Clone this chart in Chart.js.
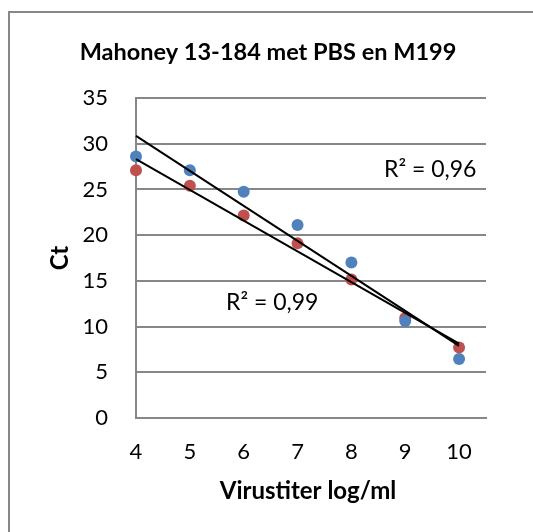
<!DOCTYPE html>
<html>
<head>
<meta charset="utf-8">
<script src="https://cdn.jsdelivr.net/npm/chart.js@4/dist/chart.umd.min.js"></script>
<style>
  html, body { margin: 0; padding: 0; background: #fff; }
  canvas { display: block; }
</style>
</head>
<body>
<canvas id="c" width="533" height="532" style="width:533px;height:532px"></canvas>
<script>
// ---- data ----
const chartTitle = 'Mahoney 13-184 met PBS en M199';
const xAxisTitle = 'Virustiter log/ml';
const yAxisTitle = 'Ct';
const virusTiter = [4, 5, 6, 7, 8, 9, 10];
const ctBlue = [28.6, 27.1, 24.75, 21.1, 17.0, 10.6, 6.45];
const ctRed  = [27.1, 25.4, 22.15, 19.1, 15.15, 10.95, 7.7];
const xTickValues = [4, 5, 6, 7, 8, 9, 10];
const yTickValues = [0, 5, 10, 15, 20, 25, 30, 35];
const r2Blue = 'R² = 0,96';
const r2Red  = 'R² = 0,99';

// least-squares trendline over the data range (as Excel's linear trendline)
function trend(xs, ys) {
  const n = xs.length;
  const mx = xs.reduce((a, b) => a + b, 0) / n;
  const my = ys.reduce((a, b) => a + b, 0) / n;
  let sxy = 0, sxx = 0;
  for (let i = 0; i < n; i++) { sxy += (xs[i] - mx) * (ys[i] - my); sxx += (xs[i] - mx) ** 2; }
  const b = sxy / sxx, a = my - b * mx;
  const x0 = Math.min(...xs), x1 = Math.max(...xs);
  return [{ x: x0, y: a + b * x0 }, { x: x1, y: a + b * x1 }];
}
const pts = (xs, ys) => xs.map((x, i) => ({ x, y: ys[i] }));

const GRAY = '#878787';
const FONT = 'Lato, "Open Sans", sans-serif';

const decor = {
  id: 'decor',
  beforeDraw(chart) {
    const ctx = chart.ctx;
    ctx.save();
    ctx.fillStyle = '#fff';
    ctx.fillRect(0, 0, chart.width, chart.height);
    ctx.strokeStyle = GRAY;
    ctx.lineWidth = 2;
    ctx.beginPath();
    ctx.moveTo(9, chart.height);
    ctx.lineTo(9, 12);
    ctx.lineTo(chart.width, 12);
    ctx.stroke();
    ctx.restore();
  },
  afterDraw(chart) {
    const ctx = chart.ctx;
    const xs = chart.scales.x;
    ctx.save();
    ctx.fillStyle = '#000';
    ctx.textBaseline = 'alphabetic';
    // title
    ctx.font = 'bold 23.5px ' + FONT;
    ctx.textAlign = 'center';
    ctx.fillText(chartTitle, 268, 60);
    // x axis title
    ctx.font = 'bold 24px ' + FONT;
    ctx.fillText(xAxisTitle, (xs.left + xs.right) / 2 - 3, 499);
    // y axis title
    ctx.save();
    ctx.translate(68, 258);
    ctx.rotate(-Math.PI / 2);
    ctx.fillText(yAxisTitle, 0, 0);
    ctx.restore();
    // R² labels
    ctx.font = '23px ' + FONT;
    ctx.textAlign = 'left';
    ctx.fillText(r2Blue, 384, 177);
    ctx.fillText(r2Red, 226, 310);
    ctx.restore();
  }
};

new Chart(document.getElementById('c'), {
  type: 'scatter',
  data: {
    datasets: [
      { label: 'trend blue', type: 'line', data: trend(virusTiter, ctBlue), borderColor: '#000', borderWidth: 2,
        pointRadius: 0, fill: false, order: 0, clip: false },
      { label: 'trend red', type: 'line', data: trend(virusTiter, ctRed), borderColor: '#000', borderWidth: 2,
        pointRadius: 0, fill: false, order: 0, clip: false },
      { label: 'blue', data: pts(virusTiter, ctBlue), backgroundColor: '#4F81BD', borderWidth: 0,
        pointRadius: 6, order: 1, clip: false },
      { label: 'red', data: pts(virusTiter, ctRed), backgroundColor: '#C0504D', borderWidth: 0,
        pointRadius: 6, order: 2, clip: false }
    ]
  },
  options: {
    responsive: false,
    devicePixelRatio: 1,
    animation: false,
    layout: { padding: { left: 0, right: 47, top: 98, bottom: 0 } },
    plugins: { legend: { display: false }, title: { display: false }, tooltip: { enabled: false } },
    scales: {
      x: {
        type: 'linear', min: 4, max: 10.5,
        afterBuildTicks: s => { s.ticks = xTickValues.map(v => ({ value: v })); },
        afterFit: s => { s.height = 114; },
        grid: { display: false, drawTicks: false },
        border: { display: true, color: GRAY, width: 2 },
        ticks: { color: '#000', font: { family: FONT, size: 22 }, padding: 21, maxRotation: 0 }
      },
      y: {
        type: 'linear', min: 0, max: 35,
        afterBuildTicks: s => { s.ticks = yTickValues.map(v => ({ value: v })); },
        afterFit: s => { s.width = 136; },
        grid: { color: GRAY, lineWidth: 2, drawTicks: false },
        border: { display: true, color: GRAY, width: 2 },
        ticks: { color: '#000', font: { family: FONT, size: 22 }, padding: 28 }
      }
    }
  },
  plugins: [decor]
});
</script>
</body>
</html>
